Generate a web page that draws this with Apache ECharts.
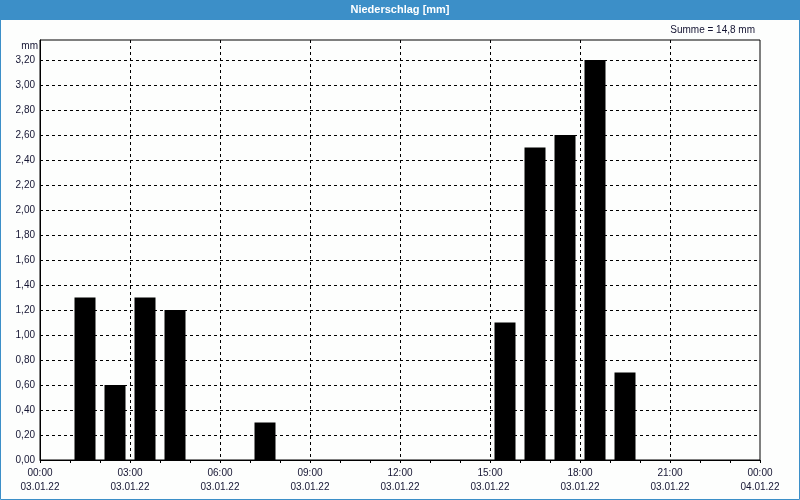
<!DOCTYPE html>
<html>
<head>
<meta charset="utf-8">
<script src="https://cdn.jsdelivr.net/npm/echarts@6/dist/echarts.min.js"></script>
<style>
html,body{margin:0;padding:0;background:#fdfefd;}
#c{width:800px;height:500px;}
</style>
</head>
<body>
<div id="c"></div>
<script>
// Hour index (start of hour, 03.01.22) and precipitation in mm
var hours = [1, 2, 3, 4, 7, 15, 16, 17, 18, 19];
var values = [1.3, 0.6, 1.3, 1.2, 0.3, 1.1, 2.5, 2.6, 3.2, 0.7];
var xTicks = [0, 3, 6, 9, 12, 15, 18, 21, 24];
var yTicks = [0, 0.2, 0.4, 0.6, 0.8, 1.0, 1.2, 1.4, 1.6, 1.8, 2.0, 2.2, 2.4, 2.6, 2.8, 3.0, 3.2];
var titleText = 'Niederschlag [mm]';
var unit = 'mm';

var sum = values.reduce(function (a, b) { return a + b; }, 0);
var sumText = 'Summe = ' + sum.toFixed(1).replace('.', ',') + ' ' + unit;
var fontFam = '"Liberation Sans", Arial, sans-serif';
var txtColor = '#141432';
var blue = '#3c8fc8';

var chart = echarts.init(document.getElementById('c'), null, {renderer: 'canvas'});
chart.setOption({
  animation: false,
  backgroundColor: '#fdfefd',
  graphic: [
    {type: 'rect', z: 0, shape: {x: 0, y: 0, width: 800, height: 20}, style: {fill: blue}},
    {type: 'rect', z: 0, shape: {x: 0.5, y: 0.5, width: 799, height: 499}, style: {fill: null, stroke: blue, lineWidth: 1}}
  ],
  title: [
    {text: titleText, left: 'center', top: 4, padding: 0,
     textStyle: {color: '#ffffff', fontSize: 11, fontWeight: 'bold', fontFamily: fontFam}},
    {text: sumText, right: 45, top: 25, padding: 0,
     textStyle: {color: txtColor, fontSize: 10, fontWeight: 'normal', fontFamily: fontFam}}
  ],
  grid: {left: 40, right: 40, top: 40, bottom: 40, show: true, borderColor: '#000', borderWidth: 1, backgroundColor: 'transparent'},
  xAxis: {
    type: 'value', min: xTicks[0], max: xTicks[xTicks.length - 1], interval: 3,
    axisLine: {show: true, lineStyle: {color: '#000', width: 1}},
    axisTick: {show: true, length: 3, lineStyle: {color: '#000'}},
    minorTick: {show: true, splitNumber: 3, length: 3, lineStyle: {color: '#000'}},
    splitLine: {show: true, showMinLine: false, showMaxLine: false, lineStyle: {color: '#000', type: [3, 3], width: 1}},
    axisLabel: {
      margin: 6, lineHeight: 14, color: txtColor, fontSize: 10, fontFamily: fontFam,
      showMinLabel: true, showMaxLabel: true,
      formatter: function (v) {
        var h = v % 24;
        var day = v >= 24 ? '04.01.22' : '03.01.22';
        return (h < 10 ? '0' : '') + h + ':00\n' + day;
      }
    }
  },
  yAxis: {
    type: 'value', min: 0, max: 3.36, interval: 0.2,
    name: unit, nameLocation: 'end', nameGap: -11,
    nameTextStyle: {align: 'right', verticalAlign: 'bottom', padding: [0, 2, 0, 0], color: txtColor, fontSize: 10, fontFamily: fontFam},
    axisLine: {show: true, lineStyle: {color: '#000', width: 1}},
    axisTick: {show: false},
    splitLine: {show: true, showMinLine: false, showMaxLine: false, lineStyle: {color: '#000', type: [3, 3], width: 1}},
    axisLabel: {
      margin: 5, color: txtColor, fontSize: 10, fontFamily: fontFam,
      showMaxLabel: false,
      formatter: function (v) {
        if (v > yTicks[yTicks.length - 1] + 0.01) return '';
        return v.toFixed(2).replace('.', ',');
      }
    }
  },
  series: [{
    type: 'bar',
    barWidth: 21,
    itemStyle: {color: '#000'},
    data: hours.map(function (h, i) { return [h + 0.5, values[i]]; })
  }]
});
</script>
</body>
</html>
